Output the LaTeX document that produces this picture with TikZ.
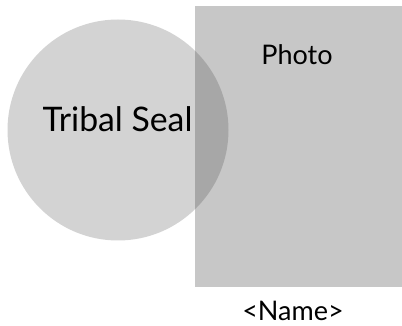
\documentclass[tikz,border=0pt]{standalone}
\usepackage{fontspec}
\setmainfont{Lato}
\usetikzlibrary{positioning}
\tikzset{
x=1pt, y=1pt, % one unit is one pixel of the reference
photobox/.style={fill=black!22, minimum width=207pt, minimum height=281pt, inner sep=0pt}, % the photo area
sealdisc/.style={circle, fill=black!78, fill opacity=0.22, minimum size=221pt, inner sep=0pt}, % the see-through seal
caption/.style={text=black, inner sep=0pt, anchor=base}, % the texts
}

\begin{document}
\begin{tikzpicture}
        \useasboundingbox (0,0) rectangle (402,326);
        \node[photobox, anchor=south west] (photo) at (195,39) {};
        \node[sealdisc] (seal) at (118,196) {};

        \node[caption, font=\fontsize{33.8}{38}\selectfont] (sealtext) at (117.5,194) {Tribal Seal};
        \node[caption, font=\fontsize{27}{32}\selectfont] (phototext) at (297,261) {Photo};
        \node[caption, font=\fontsize{27}{32}\selectfont] (nametext) at (293,5) {<Name>};
    \end{tikzpicture}
\end{document}
